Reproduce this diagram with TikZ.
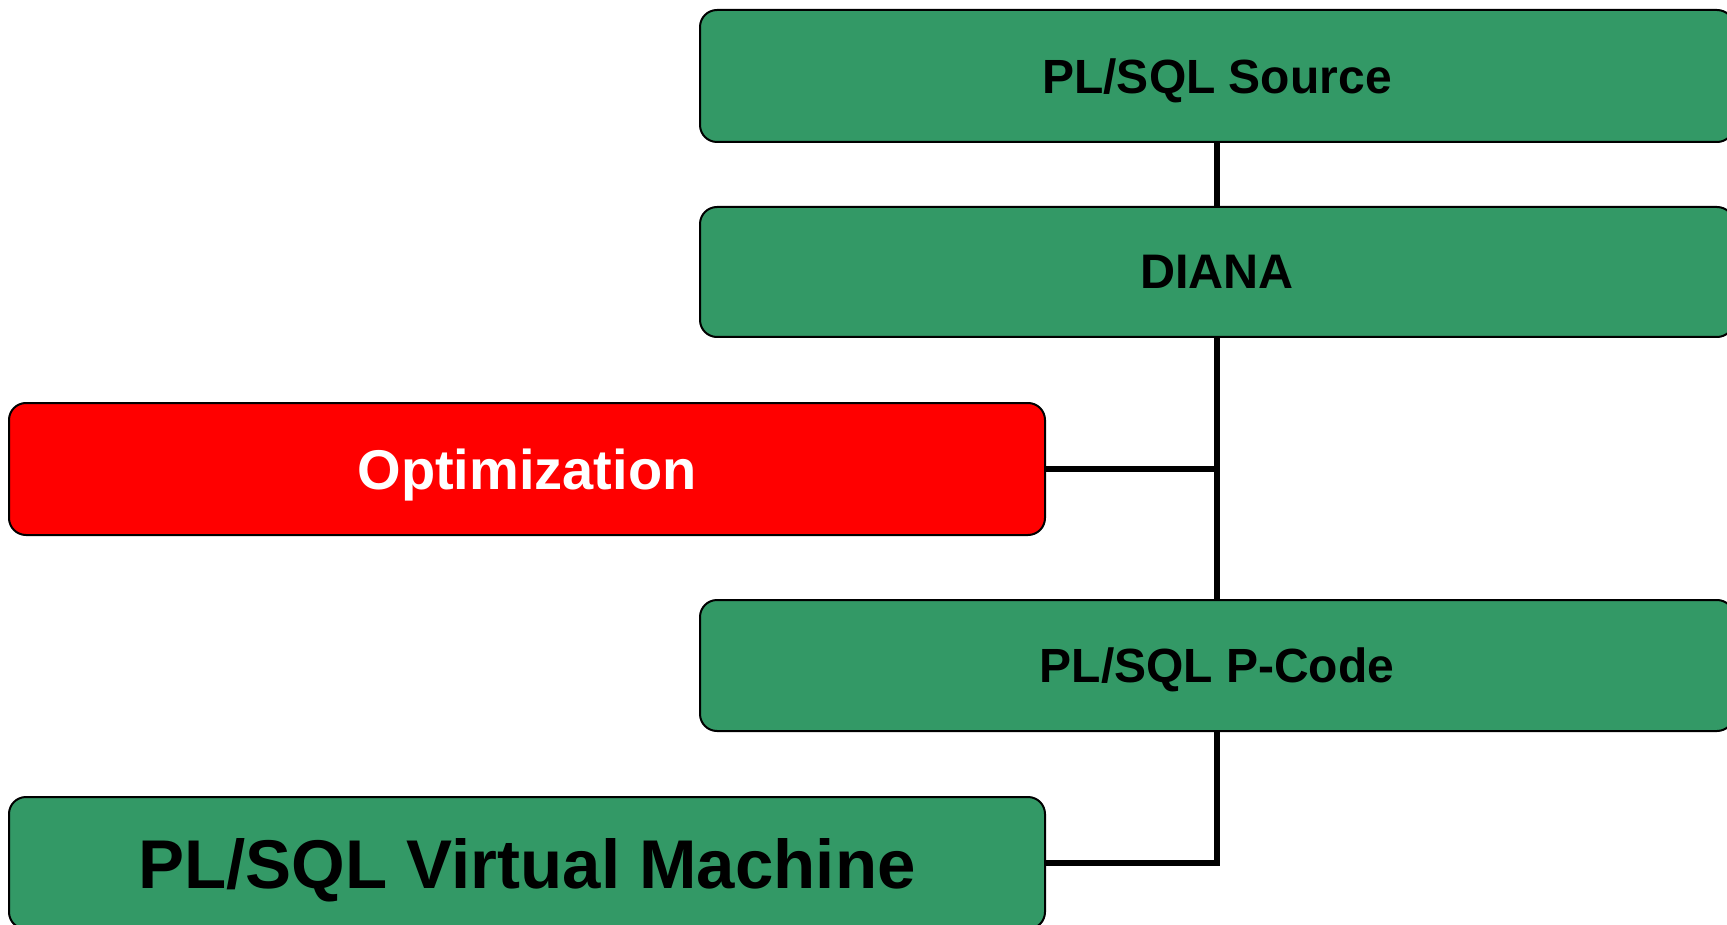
\documentclass[tikz,border=0pt]{standalone}
\usepackage{fontspec}
\setmainfont{Liberation Sans}
\definecolor{stagegreen}{RGB}{51,153,102}
\definecolor{stagered}{RGB}{255,0,0}
\begin{document}
\begin{tikzpicture}[x=1pt,y=-1pt,
  stagebox/.style={draw=black, line width=2pt, rounded corners=17pt,
    fill=stagegreen, text=black, inner sep=0pt, text depth=0pt, font=\bfseries},
  optbox/.style={stagebox, fill=stagered, text=white},
  conn/.style={draw=black, line width=6pt, line cap=butt, line join=miter}]
  \useasboundingbox (0,0) rectangle (1727,925);
  % compiler stages
  \node[stagebox, minimum width=1034pt, minimum height=132pt,
        font=\bfseries\fontsize{48}{52}\selectfont] (src) at (1217,76) {PL/SQL Source};
  \node[stagebox, minimum width=1034pt, minimum height=130pt,
        font=\bfseries\fontsize{48.5}{52}\selectfont] (diana) at (1217,272) {DIANA};
  \node[optbox, minimum width=1036pt, minimum height=132pt,
        font=\bfseries\fontsize{56}{60}\selectfont] (opt) at (527,469) {Optimization};
  \node[stagebox, minimum width=1034pt, minimum height=131pt,
        font=\bfseries\fontsize{48}{52}\selectfont] (pcode) at (1217,665.5) {PL/SQL P-Code};
  \node[stagebox, minimum width=1036pt, minimum height=132pt,
        font=\bfseries\fontsize{69}{74}\selectfont] (vm) at (527,863) {PL/SQL Virtual Machine};
  % connectors
  \draw[conn] (src.south) -- (diana.north);
  \draw[conn] (diana.south) -- (pcode.north);
  \draw[conn] (opt.east) -- (opt.east -| diana.south);
  \draw[conn] (pcode.south) |- (vm.east);
\end{tikzpicture}
\end{document}
